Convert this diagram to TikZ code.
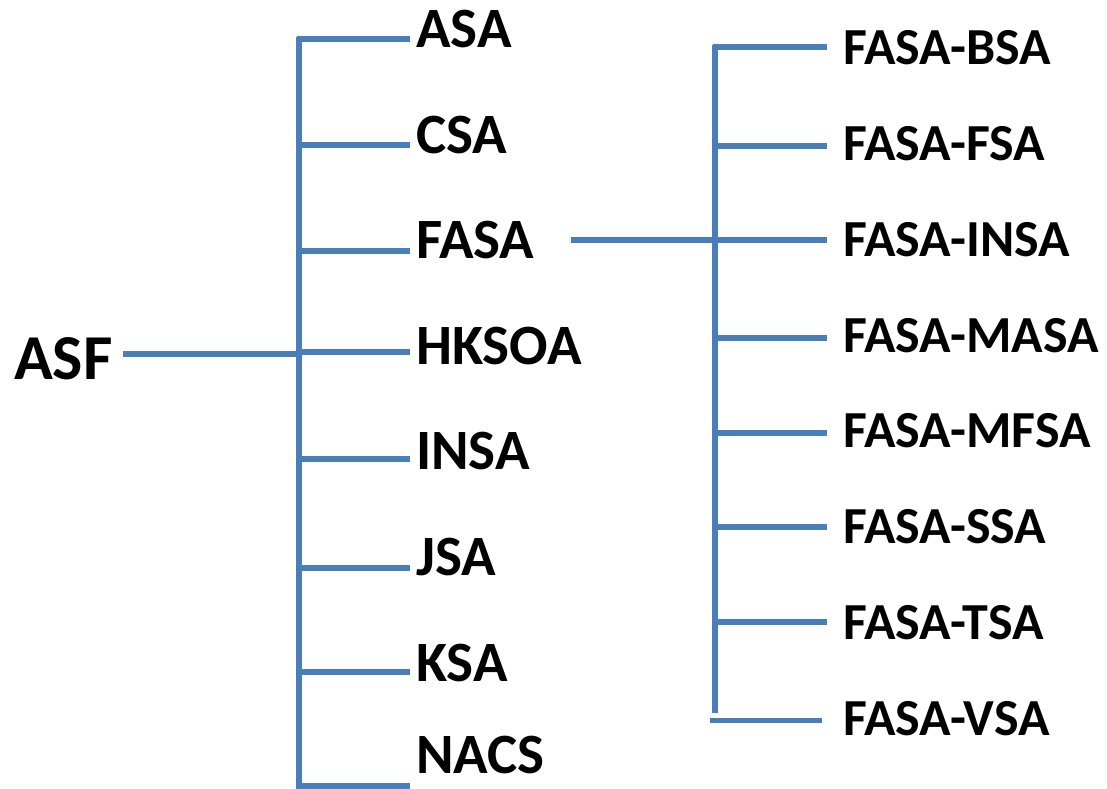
\documentclass[tikz,border=0pt]{standalone}
\usepackage{fontspec}
\setmainfont{Carlito}
\definecolor{branch}{RGB}{74,126,187}
\begin{document}
\begin{tikzpicture}[x=1pt,y=-1pt,
  conn/.style={draw=branch,line width=5.5pt},
  lbl/.style={anchor=base west,inner sep=0pt,font=\bfseries\fontsize{57}{60}\selectfont},
  rlbl/.style={anchor=base west,inner sep=0pt,font=\bfseries\fontsize{52}{60}\selectfont},
  root/.style={anchor=base west,inner sep=0pt,font=\bfseries\fontsize{64}{70}\selectfont}]
\useasboundingbox (0,0) rectangle (1107,788);
% root
\node[root] (asf) at (14,379) {ASF};
\coordinate (asfend) at (123,354);
\coordinate (ljoin) at (299,354);
\draw[conn] (asfend) -- (ljoin);
% left bar
\coordinate (ltop) at (299,36.5);
\coordinate (lbot) at (299,790);
\draw[conn] (ltop) -- (lbot);
\foreach \name/\txt/\ly/\ty in {asa/ASA/39/47, csa/CSA/145/153, fasa/FASA/251/258, hksoa/HKSOA/352/364, insa/INSA/459/469, jsa/JSA/568/575, ksa/KSA/672/681, nacs/NACS/786/773}{
  \coordinate (\name b) at (296.5,\ly);
  \coordinate (\name e) at (410,\ly);
  \draw[conn] (\name b) -- (\name e);
  \node[lbl] (\name) at (416,\ty) {\txt};
}
% FASA branch
\coordinate (fstart) at (571,240);
\coordinate (fend) at (826,240);
\draw[conn] (fstart) -- (fend);
\coordinate (rtop) at (715,44.5);
\coordinate (rbot) at (715,713);
\draw[conn] (rtop) -- (rbot);
\foreach \name/\txt/\ly/\ty in {rb/FASA-BSA/47/64, rf/FASA-FSA/146/160, ri/FASA-INSA/240/256, rm/FASA-MASA/338/352, rmf/FASA-MFSA/433/447, rs/FASA-SSA/527/543, rt/FASA-TSA/622/639}{
  \coordinate (\name b) at (712.5,\ly);
  \coordinate (\name e) at (827,\ly);
  \draw[conn] (\name b) -- (\name e);
  \node[rlbl] (\name) at (843,\ty) {\txt};
}
\coordinate (rvb) at (710,720.5);
\coordinate (rve) at (822,720.5);
\draw[conn] (rvb) -- (rve);
\node[rlbl] (rv) at (843,735) {FASA-VSA};
\end{tikzpicture}
\end{document}
